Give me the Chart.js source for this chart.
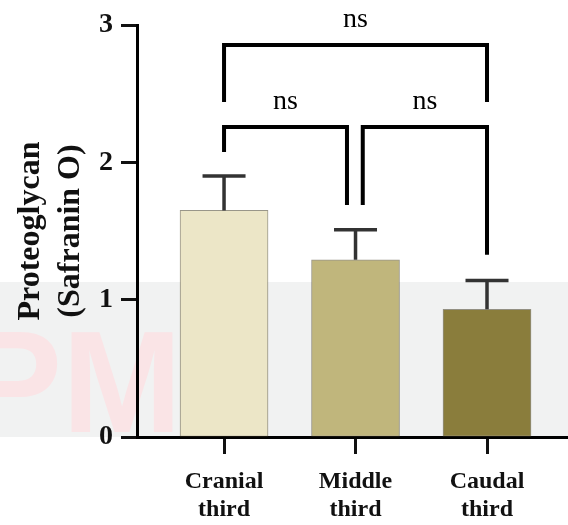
<!DOCTYPE html>
<html>
<head>
<meta charset="utf-8">
<script src="https://cdn.jsdelivr.net/npm/chart.js@4.4.1/dist/chart.umd.min.js"></script>
<style>
  html, body { margin: 0; padding: 0; background: #ffffff; }
  #wrap { width: 568px; height: 525px; position: relative; }
</style>
</head>
<body>
<div id="wrap"><canvas id="chart" width="568" height="525"></canvas></div>
<script>
// Regions along the spine and their proteoglycan (Safranin O) scores
const categories = [['Cranial', 'third'], ['Middle', 'third'], ['Caudal', 'third']];
const means = [1.65, 1.29, 0.93];
const sems = [0.25, 0.22, 0.21];
const barColors = ['#ece6c7', '#c0b67c', '#8a7d3c'];
const yTickValues = [0, 1, 2, 3];

// Pairwise comparisons: group indices and the result label
const comparisons = [
  { a: 0, b: 2, label: 'ns' },
  { a: 0, b: 1, label: 'ns' },
  { a: 1, b: 2, label: 'ns' }
];

// Bracket layout (y in axis units): bar level, and how far each leg drops
const bracketLayout = [
  { level: 2.855, legA: 2.44, legB: 2.44, insetA: 0, insetB: 0 },
  { level: 2.258, legA: 2.076, legB: 1.69, insetA: 0, insetB: -0.065 },
  { level: 2.258, legA: 1.69, legB: 1.327, insetA: 0.055, insetB: 0 }
];

const SERIF = "'Liberation Serif', 'Times New Roman', serif";

// Faint watermark behind the lower part of the figure
const backgroundBand = {
  id: 'backgroundBand',
  beforeDraw(chart) {
    const { ctx, width } = chart;
    ctx.save();
    ctx.fillStyle = '#f1f2f2';
    ctx.fillRect(0, 282, width, 155);
    ctx.fillStyle = '#fae4e6';
    ctx.font = "bold 144px 'Liberation Sans', Arial, sans-serif";
    ctx.textBaseline = 'alphabetic';
    ctx.textAlign = 'left';
    ctx.fillText('PM', -34, 432);
    ctx.restore();
  }
};

// Upper (SEM) error bars above each column
const errorBars = {
  id: 'errorBars',
  afterDatasetsDraw(chart) {
    const { ctx, scales: { x, y } } = chart;
    ctx.save();
    ctx.strokeStyle = '#333333';
    ctx.lineWidth = 3.5;
    ctx.lineCap = 'butt';
    means.forEach((m, i) => {
      const px = x.getPixelForValue(i);
      const yTop = y.getPixelForValue(m + sems[i]);
      const yBase = y.getPixelForValue(m);
      ctx.beginPath();
      ctx.moveTo(px, yBase);
      ctx.lineTo(px, yTop);
      ctx.moveTo(px - 21.5, yTop);
      ctx.lineTo(px + 21.5, yTop);
      ctx.stroke();
    });
    ctx.restore();
  }
};

// Significance brackets with their labels
const sigBrackets = {
  id: 'sigBrackets',
  afterDraw(chart) {
    const { ctx, scales: { x, y } } = chart;
    ctx.save();
    ctx.strokeStyle = '#000000';
    ctx.lineWidth = 4;
    ctx.lineJoin = 'miter';
    ctx.lineCap = 'butt';
    ctx.fillStyle = '#000000';
    ctx.font = '28px ' + SERIF;
    ctx.textAlign = 'center';
    ctx.textBaseline = 'alphabetic';
    comparisons.forEach((c, i) => {
      const L = bracketLayout[i];
      const xa = x.getPixelForValue(c.a + L.insetA);
      const xb = x.getPixelForValue(c.b + L.insetB);
      const yl = y.getPixelForValue(L.level);
      ctx.beginPath();
      ctx.moveTo(xa, y.getPixelForValue(L.legA));
      ctx.lineTo(xa, yl);
      ctx.lineTo(xb, yl);
      ctx.lineTo(xb, y.getPixelForValue(L.legB));
      ctx.stroke();
      ctx.fillText(c.label, (xa + xb) / 2, yl - 17.5);
    });
    ctx.restore();
  }
};

new Chart(document.getElementById('chart'), {
  type: 'bar',
  data: {
    datasets: [{
      data: means.map((v, i) => ({ x: i, y: v })),
      backgroundColor: barColors,
      borderColor: 'rgba(70, 64, 40, 0.55)',
      borderWidth: 1,
      borderSkipped: false,
      barThickness: 88
    }]
  },
  options: {
    responsive: false,
    animation: false,
    devicePixelRatio: 1,
    layout: { padding: { top: 25, right: 0, left: 0, bottom: 0 } },
    plugins: {
      legend: { display: false },
      tooltip: { enabled: false }
    },
    scales: {
      x: {
        type: 'linear',
        offset: false,
        min: -0.662,
        max: 2.616,
        afterBuildTicks(scale) {
          scale.ticks = [0, 1, 2].map(v => ({ value: v }));
        },
        afterFit(scale) { scale.height = 88; },
        ticks: {
          autoSkip: false,
          maxRotation: 0,
          minRotation: 0,
          padding: 13,
          color: '#111111',
          font: { family: SERIF, size: 24, weight: 'bold', lineHeight: 1.2 },
          callback: (v) => categories[v]
        },
        grid: {
          offset: false,
          drawOnChartArea: false,
          drawTicks: true,
          tickLength: 17,
          tickWidth: 3,
          tickColor: '#111111'
        },
        border: { display: true, width: 3, color: '#000000' }
      },
      y: {
        min: 0,
        max: 3,
        afterBuildTicks(scale) {
          scale.ticks = yTickValues.map(v => ({ value: v }));
        },
        afterFit(scale) { scale.width = 137; },
        ticks: {
          padding: 8,
          color: '#111111',
          font: { family: SERIF, size: 28, weight: 'bold' }
        },
        grid: {
          drawOnChartArea: false,
          drawTicks: true,
          tickLength: 16,
          tickWidth: 3,
          tickColor: '#111111'
        },
        border: { display: true, width: 3, color: '#000000' },
        title: {
          display: true,
          text: ['Proteoglycan', '(Safranin O)'],
          color: '#111111',
          font: { family: SERIF, size: 32, weight: 'bold', lineHeight: 1.25 },
          padding: { top: 11, bottom: 0 }
        }
      }
    }
  },
  plugins: [backgroundBand, errorBars, sigBrackets]
});
</script>
</body>
</html>
